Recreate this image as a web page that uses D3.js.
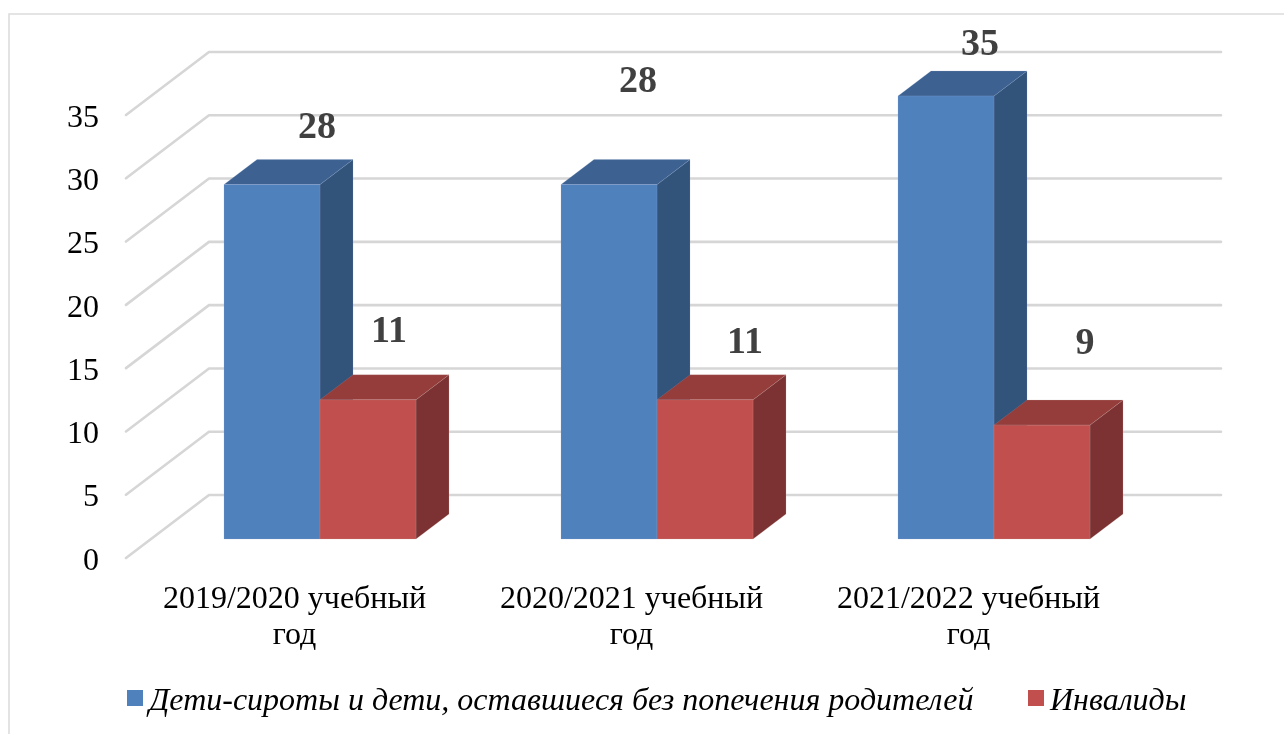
<!DOCTYPE html>
<html>
<head>
<meta charset="utf-8">
<script src="https://cdnjs.cloudflare.com/ajax/libs/d3/7.8.5/d3.min.js"></script>
<style>
  body { margin: 0; background: #fff; }
  svg { display: block; }
  text { font-family: "Liberation Serif", serif; }
</style>
</head>
<body>
<div id="chart"></div>
<script>
// data
const categories = ["2019/2020 учебный год", "2020/2021 учебный год", "2021/2022 учебный год"];
const orphans = [28, 28, 35];
const disabled = [11, 11, 9];
const seriesNames = ["Дети-сироты и дети, оставшиеся без попечения родителей", "Инвалиды"];
const yTicks = [0, 5, 10, 15, 20, 25, 30, 35];

const width = 1284, height = 734;

// floor of the fake 3d box, back wall sits at (+depthX, -depthY) from the front
const depthX = 83, depthY = 63;
// bars stand in the middle of the floor
const barDepthX = 33, barDepthY = 25, barShiftX = 25.5, barShiftY = 19;

const svg = d3.select("#chart")
  .append("svg")
    .attr("width", width)
    .attr("height", height);

// the picture is a soft screenshot, take the edge off
svg.append("defs").append("filter")
    .attr("id", "soft")
  .append("feGaussianBlur")
    .attr("stdDeviation", 0.45);

const root = svg.append("g").attr("filter", "url(#soft)");

// outer frame, only top and left are in shot
root.append("path")
    .attr("d", `M9,${height} V14 H${width}`)
    .attr("fill", "none")
    .attr("stroke", "#dcdcdc")
    .attr("stroke-width", 1.6);

const x = d3.scaleBand()
  .domain(categories)
  .range([126, 1137]);

const y = d3.scaleLinear()
  .domain([0, 35])
  .range([558, 115]);

const inner = d3.scaleBand()
  .domain([0, 1])
  .range([0, 192]);

// Gridlines
root.selectAll("path.grid")
  .data(yTicks)
  .join("path")
    .attr("class", "grid")
    .attr("d", d => `M${x.range()[0]},${y(d)} l${depthX},${-depthY} H${x.range()[1] + depthX + 1}`)
    .attr("fill", "none")
    .attr("stroke", "#d6d6d6")
    .attr("stroke-width", 2.6)
    .attr("stroke-linecap", "round")
    .attr("stroke-linejoin", "round");

// Y axis
const yAxis = root.append("g")
  .attr("transform", `translate(${x.range()[0]}, 1)`)
  .call(d3.axisLeft(y).tickValues(yTicks).tickSize(0).tickPadding(27));
yAxis.select(".domain").remove();
yAxis.selectAll("text")
    .style("font-size", "32px")
    .style("font-family", "'Liberation Serif', serif")
    .attr("fill", "#000");

// X axis
const xAxis = root.append("g")
  .attr("transform", "translate(0, 580)")
  .call(d3.axisBottom(x).tickSize(0).tickPadding(0));
xAxis.select(".domain").remove();
xAxis.selectAll("text")
    .style("font-size", "32px")
    .style("font-family", "'Liberation Serif', serif")
    .attr("fill", "#000")
    .each(function(d) {
      const parts = d.split(" ");
      const t = d3.select(this).text(null).attr("y", 0).attr("dy", null);
      t.append("tspan").attr("x", 0).attr("dy", 28).text(parts.slice(0, 2).join(" "));
      t.append("tspan").attr("x", 0).attr("dy", 36).text(parts[2]);
    });

// Bars
const colors = [
  {front: "#4f81bd", top: "#3c6291", side: "#31527a", edge: "#8aa6cc"},
  {front: "#c0504d", top: "#943c3a", side: "#7c3331", edge: "#c9a5a5"}
];

function barLeft(cat, s) {
  return x(cat) + (x.bandwidth() - inner.range()[1]) / 2 + barShiftX + inner(s);
}

function drawBar(cat, s, value) {
  const c = colors[s];
  const x0 = barLeft(cat, s), w = inner.bandwidth();
  const yTop = y(value) - barShiftY, yBase = y(0) - barShiftY;
  const g = root.append("g")
    .attr("stroke", c.edge)
    .attr("stroke-width", 0.4)
    .attr("stroke-opacity", 0.5)
    .attr("stroke-linejoin", "round");
  g.append("path")
    .attr("d", `M${x0 + w},${yTop} l${barDepthX},${-barDepthY} V${yBase - barDepthY} l${-barDepthX},${barDepthY} Z`)
    .attr("fill", c.side);
  g.append("path")
    .attr("d", `M${x0},${yTop} l${barDepthX},${-barDepthY} h${w} l${-barDepthX},${barDepthY} Z`)
    .attr("fill", c.top);
  g.append("rect")
    .attr("x", x0)
    .attr("y", yTop)
    .attr("width", w)
    .attr("height", yBase - yTop)
    .attr("fill", c.front);
}

categories.forEach((cat, i) => {
  drawBar(cat, 0, orphans[i]);
  drawBar(cat, 1, disabled[i]);
});

// Value labels, nudged by hand from the bar tops like in the original
const nudges = [
  [[45, -47], [29, -93], [34, -41]],
  [[21, -58], [40, -47], [43, -71]]
];
[orphans, disabled].forEach((values, s) => {
  root.selectAll(`text.val${s}`)
    .data(values)
    .join("text")
      .attr("class", `val${s}`)
      .attr("x", (d, i) => barLeft(categories[i], s) + inner.bandwidth() / 2 + nudges[s][i][0])
      .attr("y", (d, i) => y(d) - barShiftY + nudges[s][i][1])
      .attr("text-anchor", "middle")
      .attr("font-size", 38)
      .attr("font-weight", "bold")
      .attr("fill", "#404040")
      .text(d => d);
});

// Legend
const legendX = [127, 1028];
const legend = root.selectAll("g.legend")
  .data(seriesNames)
  .join("g")
    .attr("class", "legend")
    .attr("transform", (d, i) => `translate(${legendX[i]}, 690)`);
legend.append("rect")
    .attr("width", 16)
    .attr("height", 16)
    .attr("fill", (d, i) => colors[i].front);
legend.append("text")
    .attr("x", 22)
    .attr("y", 20)
    .attr("font-size", 32)
    .attr("font-style", "italic")
    .attr("fill", "#000")
    .text(d => d);
</script>
</body>
</html>
